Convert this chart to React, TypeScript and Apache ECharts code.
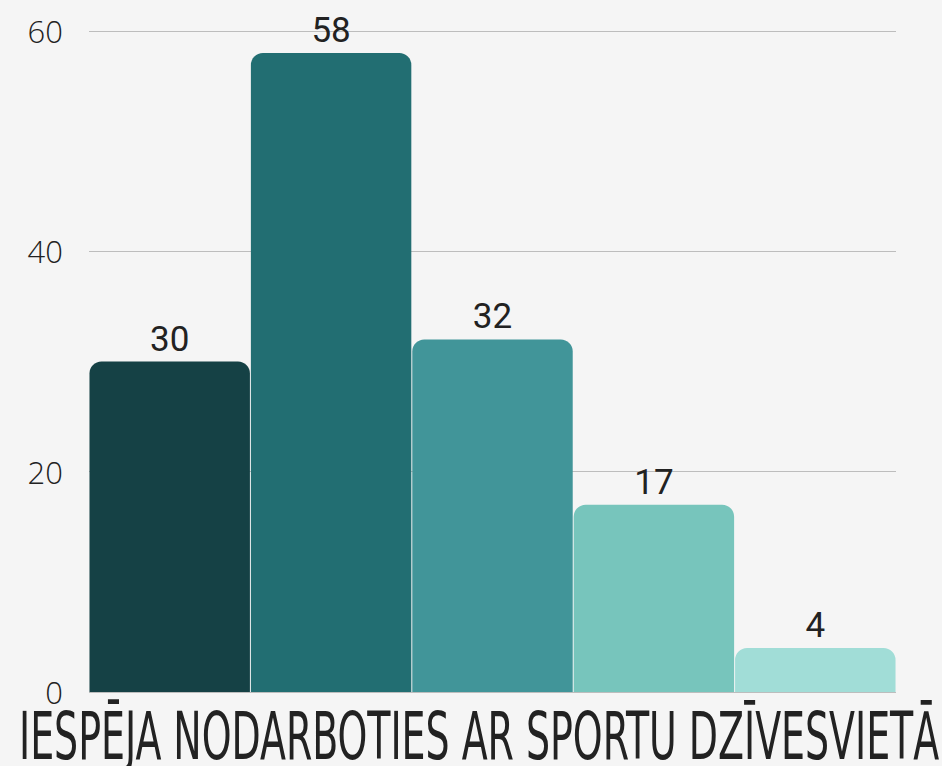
import React, { useEffect, useRef } from "react";
import * as echarts from "echarts";

const categories = ["A", "B", "C", "D", "E"];
const values = [30, 58, 32, 17, 4];
const barColors = ["#154145", "#226e72", "#419599", "#77c5bc", "#a1ddd7"];
const yTicks = { min: 0, max: 60, interval: 20 };
const titleText = "IESPĒJA NODARBOTIES AR SPORTU DZĪVESVIETĀ";

export default function App() {
  const ref = useRef<HTMLDivElement>(null);
  useEffect(() => {
    document.body.style.margin = "0";
    document.body.style.background = "#f5f5f5";
    const chart = echarts.init(ref.current!, null, { renderer: "svg" });
    chart.setOption({
      animation: false,
      backgroundColor: "#f5f5f5",
      grid: { left: 89, right: 46, top: 31, bottom: 74, containLabel: false },
      xAxis: {
        type: "category",
        data: categories,
        axisLabel: { show: false },
        axisTick: { show: false },
        axisLine: { show: false },
      },
      yAxis: {
        type: "value",
        min: yTicks.min,
        max: yTicks.max,
        interval: yTicks.interval,
        axisLabel: {
          fontSize: 31,
          color: "#222",
          fontFamily: "'Open Sans'",
          fontWeight: 300,
          margin: 26,
          lineHeight: 30,
        },
        splitLine: { lineStyle: { color: "#bdbdbd", width: 1 } },
        axisLine: { show: false },
        axisTick: { show: false },
      },
      series: [
        {
          type: "bar",
          data: values.map((v, i) => ({ value: v, itemStyle: { color: barColors[i] } })),
          barCategoryGap: "0.6%",
          itemStyle: { borderRadius: [12, 12, 0, 0] },
          label: {
            show: true,
            position: "top",
            distance: 5,
            fontSize: 35,
            color: "#222",
            fontFamily: "Roboto",
          },
        },
      ],
      graphic: [
        {
          type: "text",
          x: 19,
          y: 736,
          scaleX: 1.013,
          scaleY: 1.58,
          style: {
            text: titleText,
            font: "41.6px 'DejaVu Sans Condensed', sans-serif",
            fill: "#222",
            verticalAlign: "middle",
            lineHeight: 31,
          },
        },
      ],
    });
    return () => chart.dispose();
  }, []);
  return <div ref={ref} style={{ position: "fixed", left: 0, top: 0, width: 942, height: 766 }} />;
}
